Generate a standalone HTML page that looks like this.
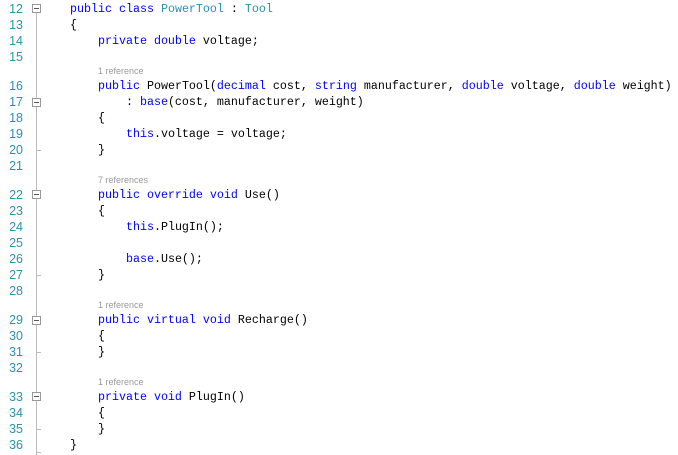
<html><head><style>
body{margin:0;width:678px;height:455px;background:#fff;position:relative;overflow:hidden;font-family:"Liberation Mono",monospace;font-size:11.67px}
.l{position:absolute;left:0;height:16px;line-height:16px;white-space:pre;width:678px}
.n{position:absolute;right:655px;color:#2b91af;font-family:"Liberation Sans",sans-serif;font-size:12.5px}
.c{position:absolute;left:70px;color:#000}
.k{color:#0000ff}.t{color:#2b91af}
.r{position:absolute;left:98px;color:#999;font-family:"Liberation Sans",sans-serif;font-size:9px;height:13px;line-height:13px}
.b{position:absolute;left:32px;width:7px;height:7px;border:1px solid #999;background:#fff}
.b:after{content:"";position:absolute;left:1px;top:3px;width:5px;height:1px;background:#555}
.tk{position:absolute;left:36px;width:5px;height:1px;background:#bbb}
</style></head><body>
<div style="position:absolute;left:36px;top:13px;width:1px;height:442px;background:#bbb"></div>
<div class="l" style="top:1px"><span class="n">12</span><span class="c"><span class="k">public class</span> <span class="t">PowerTool</span> : <span class="t">Tool</span></span></div>
<div class="l" style="top:17px"><span class="n">13</span><span class="c">{</span></div>
<div class="l" style="top:33px"><span class="n">14</span><span class="c">    <span class="k">private double</span> voltage;</span></div>
<div class="l" style="top:49px"><span class="n">15</span></div>
<div class="r" style="top:65px">1 reference</div>
<div class="l" style="top:78px"><span class="n">16</span><span class="c">    <span class="k">public</span> PowerTool(<span class="k">decimal</span> cost, <span class="k">string</span> manufacturer, <span class="k">double</span> voltage, <span class="k">double</span> weight)</span></div>
<div class="l" style="top:94px"><span class="n">17</span><span class="c">        : <span class="k">base</span>(cost, manufacturer, weight)</span></div>
<div class="l" style="top:110px"><span class="n">18</span><span class="c">    {</span></div>
<div class="l" style="top:126px"><span class="n">19</span><span class="c">        <span class="k">this</span>.voltage = voltage;</span></div>
<div class="l" style="top:142px"><span class="n">20</span><span class="c">    }</span></div>
<div class="l" style="top:158px"><span class="n">21</span></div>
<div class="r" style="top:174px">7 references</div>
<div class="l" style="top:187px"><span class="n">22</span><span class="c">    <span class="k">public override void</span> Use()</span></div>
<div class="l" style="top:203px"><span class="n">23</span><span class="c">    {</span></div>
<div class="l" style="top:219px"><span class="n">24</span><span class="c">        <span class="k">this</span>.PlugIn();</span></div>
<div class="l" style="top:235px"><span class="n">25</span></div>
<div class="l" style="top:251px"><span class="n">26</span><span class="c">        <span class="k">base</span>.Use();</span></div>
<div class="l" style="top:267px"><span class="n">27</span><span class="c">    }</span></div>
<div class="l" style="top:283px"><span class="n">28</span></div>
<div class="r" style="top:299px">1 reference</div>
<div class="l" style="top:312px"><span class="n">29</span><span class="c">    <span class="k">public virtual void</span> Recharge()</span></div>
<div class="l" style="top:328px"><span class="n">30</span><span class="c">    {</span></div>
<div class="l" style="top:344px"><span class="n">31</span><span class="c">    }</span></div>
<div class="l" style="top:360px"><span class="n">32</span></div>
<div class="r" style="top:376px">1 reference</div>
<div class="l" style="top:389px"><span class="n">33</span><span class="c">    <span class="k">private void</span> PlugIn()</span></div>
<div class="l" style="top:405px"><span class="n">34</span><span class="c">    {</span></div>
<div class="l" style="top:421px"><span class="n">35</span><span class="c">    }</span></div>
<div class="l" style="top:437px"><span class="n">36</span><span class="c">}</span></div>
<div class="b" style="top:4px"></div>
<div class="b" style="top:98px"></div>
<div class="b" style="top:190px"></div>
<div class="b" style="top:316px"></div>
<div class="b" style="top:392px"></div>
<div class="tk" style="top:150px"></div>
<div class="tk" style="top:275px"></div>
<div class="tk" style="top:352px"></div>
<div class="tk" style="top:429px"></div>
<div class="tk" style="top:452px"></div>
</body></html>
